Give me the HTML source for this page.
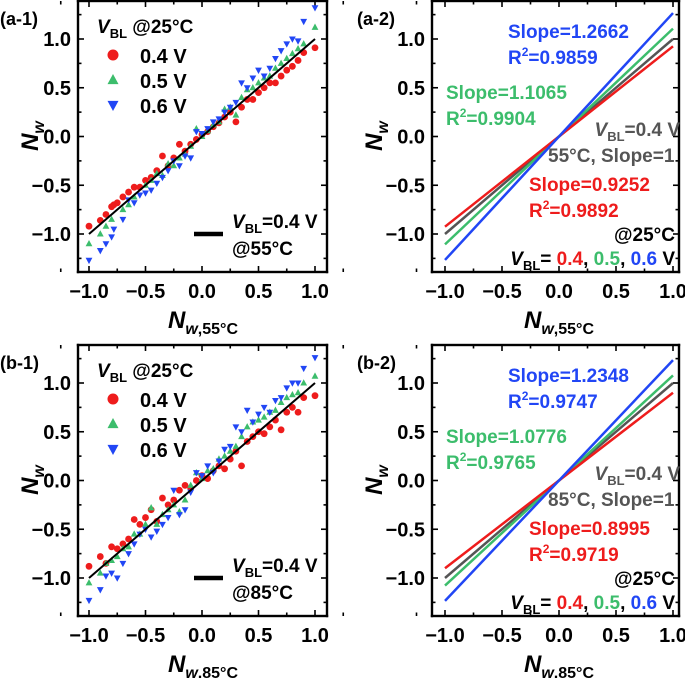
<!DOCTYPE html>
<html><head><meta charset="utf-8">
<style>
html,body{margin:0;padding:0;background:#fff;}
#wrap{position:relative;width:685px;height:678px;overflow:hidden;}
svg{position:absolute;left:0;top:0;display:block;font-family:"Liberation Sans",sans-serif;font-weight:bold;}
</style></head>
<body>
<div id="wrap">
<svg id="fig" width="685" height="678" viewBox="0 0 685 678" xmlns="http://www.w3.org/2000/svg"></svg>
</div>
<script>
// ---- data ----
const xTicks = [-1.0, -0.5, 0.0, 0.5, 1.0];
const yTicks = [-1.0, -0.5, 0.0, 0.5, 1.0];
const tickLabels = ["\u22121.0", "\u22120.5", "0.0", "0.5", "1.0"];
const seriesNames = ["0.4 V", "0.5 V", "0.6 V"];
const seriesColors = ["#ee1c1c", "#3cbd6c", "#2146f5"];

// panel a-1 scatter
const a1RedX = [-1,-0.9,-0.85,-0.8,-0.78,-0.75,-0.7,-0.65,-0.6,-0.55,-0.5,-0.45,-0.4,-0.35,-0.3,-0.25,-0.2,-0.15,-0.1,-0.05,0,0.05,0.1,0.15,0.2,0.25,0.3,0.35,0.4,0.45,0.5,0.55,0.6,0.65,0.7,0.75,0.8,0.85,0.9,1.0];
const a1RedY = [-0.92,-0.86,-0.8,-0.72,-0.7,-0.68,-0.62,-0.57,-0.52,-0.52,-0.45,-0.42,-0.35,-0.2,-0.3,-0.22,-0.08,-0.15,-0.08,-0.03,0.02,0.05,0.1,0.14,0.2,0.25,0.15,0.3,0.38,0.38,0.45,0.5,0.55,0.55,0.62,0.68,0.72,0.78,0.86,0.91];
const a1GreenX = [-1,-0.9,-0.85,-0.8,-0.7,-0.65,-0.6,-0.5,-0.45,-0.4,-0.35,-0.3,-0.25,-0.2,-0.15,-0.1,-0.05,0,0.05,0.1,0.15,0.2,0.25,0.3,0.35,0.4,0.45,0.5,0.55,0.6,0.65,0.7,0.75,0.8,0.85,0.9,1.0];
const a1GreenY = [-1.1,-1.0,-0.92,-0.85,-0.75,-0.7,-0.62,-0.5,-0.45,-0.38,-0.4,-0.28,-0.3,-0.22,-0.18,-0.1,0.08,0,0.06,0.12,0.15,0.28,0.3,0.22,0.4,0.48,0.5,0.55,0.6,0.62,0.7,0.75,0.8,0.85,0.9,0.95,1.12];
const a1BlueX = [-1,-0.9,-0.85,-0.8,-0.78,-0.7,-0.65,-0.6,-0.55,-0.5,-0.45,-0.4,-0.35,-0.3,-0.25,-0.2,-0.15,-0.1,-0.05,0,0.05,0.1,0.15,0.2,0.25,0.3,0.35,0.4,0.45,0.5,0.55,0.6,0.65,0.7,0.75,0.8,0.85,0.9,1.0];
const a1BlueY = [-1.27,-1.17,-1.1,-1.03,-0.95,-0.85,-0.65,-0.68,-0.6,-0.58,-0.55,-0.48,-0.42,-0.35,-0.25,-0.3,-0.2,-0.22,0.05,0.03,0.08,0.15,0.18,0.25,0.3,0.35,0.55,0.5,0.6,0.68,0.62,0.7,0.8,0.88,0.95,1.0,0.98,1.18,1.32];

// panel b-1 scatter
const b1RedX = [-1,-0.9,-0.85,-0.8,-0.75,-0.7,-0.65,-0.6,-0.55,-0.5,-0.45,-0.4,-0.35,-0.3,-0.25,-0.2,-0.15,-0.1,-0.05,0,0.05,0.1,0.15,0.2,0.25,0.3,0.35,0.4,0.45,0.5,0.55,0.6,0.65,0.7,0.75,0.8,0.85,0.9,1.0];
const b1RedY = [-0.88,-0.78,-0.85,-0.68,-0.7,-0.65,-0.6,-0.4,-0.45,-0.38,-0.3,-0.42,-0.18,-0.25,-0.2,-0.1,-0.05,-0.08,0.0,0.05,0.02,0.1,0.15,0.12,0.22,0.3,0.15,0.4,0.45,0.5,0.48,0.55,0.62,0.52,0.7,0.75,0.7,0.85,0.87];
const b1GreenX = [-1,-0.9,-0.85,-0.8,-0.75,-0.7,-0.65,-0.6,-0.55,-0.5,-0.45,-0.4,-0.35,-0.3,-0.25,-0.2,-0.15,-0.1,-0.05,0,0.05,0.1,0.15,0.2,0.25,0.3,0.35,0.4,0.45,0.5,0.55,0.6,0.65,0.7,0.75,0.8,0.85,0.9,1.0];
const b1GreenY = [-1.05,-0.95,-0.85,-0.82,-0.78,-0.7,-0.68,-0.55,-0.55,-0.45,-0.28,-0.45,-0.35,-0.3,-0.25,-0.32,-0.2,-0.05,0.08,0.02,0.1,0.12,0.22,0.25,0.3,0.35,0.45,0.55,0.6,0.62,0.65,0.7,0.72,0.8,0.85,0.88,0.9,1.0,1.07];
const b1BlueX = [-1,-0.9,-0.85,-0.8,-0.75,-0.7,-0.65,-0.6,-0.55,-0.5,-0.45,-0.4,-0.35,-0.3,-0.25,-0.2,-0.15,-0.1,-0.05,0,0.05,0.1,0.15,0.2,0.25,0.3,0.35,0.4,0.45,0.5,0.55,0.6,0.65,0.7,0.75,0.8,0.85,0.9,1.0];
const b1BlueY = [-1.23,-1.12,-0.98,-0.95,-1.0,-0.85,-0.75,-0.65,-0.55,-0.5,-0.58,-0.52,-0.45,-0.38,-0.1,-0.35,-0.3,-0.12,0.08,0.05,0.15,0.08,0.2,0.32,0.35,0.55,0.5,0.72,0.6,0.68,0.75,0.7,0.82,0.85,0.95,1.0,1.0,1.15,1.26];

// fit slopes (a-2, b-2): red, green, blue, reference
const a2Slopes = [0.9252, 1.1065, 1.2662, 1.0];
const b2Slopes = [0.8995, 1.0776, 1.2348, 1.0];
const fitColors = ["#ee1c1c", "#3cbd6c", "#2146f5", "#555555"];

// ---- drawing ----
const NS = "http://www.w3.org/2000/svg";
const svg = document.getElementById("fig");
function mk(tag, attrs, parent) {
  const e = document.createElementNS(NS, tag);
  for (const k in attrs) e.setAttribute(k, attrs[k]);
  (parent || svg).appendChild(e);
  return e;
}
function makePanel(name, left, right, top, bottom, xm1, x1, yOff) {
  const g = mk("g", {});
  
  
  const sx = v => (xm1 + x1) / 2 + (x1 - xm1) / 2 * v;
  const sy = v => 136.5 + yOff - 97.5 * v;
  // frame as four filled bars
  const fg = mk("g", {fill: "#000"}, g);
  
  
  const w = 2.4;
  mk("rect", {x: left - w / 2, y: top - w / 2, width: right - left + w, height: w}, fg);
  mk("rect", {x: left - w / 2, y: bottom - w / 2, width: right - left + w, height: w}, fg);
  mk("rect", {x: left - w / 2, y: top - w / 2, width: w, height: bottom - top + w}, fg);
  mk("rect", {x: right - w / 2, y: top - w / 2, width: w, height: bottom - top + w}, fg);
  const tg = mk("g", {stroke: "#000", "stroke-width": 1.6}, g);
  
  
  for (let v = -1.25; v <= 1.26; v += 0.25) {
    const major = Math.abs(v * 2 - Math.round(v * 2)) < 1e-6;
    const L = major ? 6 : 3.5;
    const X = sx(v);
    mk("line", {x1: X, y1: bottom, x2: X, y2: bottom - L}, tg);
    mk("line", {x1: X, y1: top, x2: X, y2: top + L}, tg);
    const Y = sy(v);
    if (Y > top + 2 && Y < bottom - 2) {
      mk("line", {x1: left, y1: Y, x2: left + L, y2: Y}, tg);
      mk("line", {x1: right, y1: Y, x2: right - L, y2: Y}, tg);
    }
  }
  xTicks.forEach((v, i) => {
    const t = mk("text", {x: sx(v), y: bottom + 26, "text-anchor": "middle", "font-size": 20}, g);
    
    
    t.textContent = tickLabels[i];
  });
  yTicks.forEach((v, i) => {
    const t = mk("text", {x: left - 7, y: sy(v) + 7, "text-anchor": "end", "font-size": 20}, g);
    
    
    t.textContent = tickLabels[i];
  });
  return {g, sx, sy};
}
function marker(g, kind, x, y, s, color) {
  let e;
  if (kind === 0) e = mk("circle", {cx: x, cy: y, r: s, fill: color}, g);
  else if (kind === 1) e = mk("polygon", {points: `${x},${y - s * 1.1} ${x - s},${y + s * 0.75} ${x + s},${y + s * 0.75}`, fill: color}, g);
  else e = mk("polygon", {points: `${x},${y + s * 1.1} ${x - s},${y - s * 0.75} ${x + s},${y - s * 0.75}`, fill: color}, g);
  return e;
}
function txt(parent, name, x, y, size, html, attrs) {
  const t = mk("text", Object.assign({x: x, y: y, "font-size": size}, attrs || {}), parent);
  
  
  t.innerHTML = html;
  return t;
}
function axisTitles(g, cx, cy, xLabelX, xLabelY, temp) {
  txt(g, "y-axis-title", 0, 0, 24, '<tspan font-style="italic">N</tspan><tspan font-style="italic" font-size="16" dy="6">w</tspan>', {transform: `translate(${cx},${cy}) rotate(-90)`, "text-anchor": "middle"});
  txt(g, "x-axis-title", xLabelX, xLabelY, 24, `<tspan font-style="italic">N</tspan><tspan font-size="16" dy="6"><tspan font-style="italic">w</tspan>,${temp}°C</tspan>`, {"text-anchor": "middle"});
}
function scatterPanel(name, yOff, label, temp, X, Y) {
  const p = makePanel(name, 78, 327, 1 + yOff, 272 + yOff, 89, 315, yOff);
  const sg = mk("g", {}, p.g);
  
  
  for (let s = 0; s < 3; s++) {
    for (let i = 0; i < X[s].length; i++) {
      const m = marker(sg, s, p.sx(X[s][i]), p.sy(Y[s][i]), 3.4, seriesColors[s]);
      
      
    }
  }
  const ref = mk("line", {x1: p.sx(-1), y1: p.sy(-1), x2: p.sx(1), y2: p.sy(1), stroke: "#000", "stroke-width": 2}, p.g);
  
  
  const lg = mk("g", {}, p.g);
  
  
  txt(lg, "legend-title", 97, 33 + yOff, 19, '<tspan font-style="italic">V</tspan><tspan font-size="13" dy="5">BL</tspan><tspan dy="-5"> @25°C</tspan>');
  for (let s = 0; s < 3; s++) {
    const yy = 55 + 25 * s + yOff;
    const m = marker(lg, s, 113, yy, 5.5, seriesColors[s]);
    
    
    txt(lg, "legend-entry", 140, yy + 8, 20, seriesNames[s]);
  }
  const ll = mk("line", {x1: 194, y1: 234 + yOff, x2: 223, y2: 234 + yOff, stroke: "#000", "stroke-width": 4.5}, lg);
  
  
  txt(lg, "legend-line-label", 232, 228 + yOff, 19, '<tspan font-style="italic">V</tspan><tspan font-size="13" dy="5">BL</tspan><tspan dy="-5">=0.4 V</tspan>');
  txt(lg, "legend-line-temp", 232, 255 + yOff, 19, `@${temp}°C`);
  txt(p.g, "panel-label", 0, 25 + yOff, 18, label);
  axisTitles(p.g, 38, 136 + yOff, 203, 328 + yOff, temp);
}
function fitPanel(name, yOff, label, temp, slopes, t) {
  const p = makePanel(name, 432, 679, 1 + yOff, 272 + yOff, 445, 673, yOff);
  const lg = mk("g", {}, p.g);
  
  
  [3, 1, 0, 2].forEach(s => {
    const l = mk("line", {x1: p.sx(-1), y1: p.sy(-slopes[s]), x2: p.sx(1), y2: p.sy(slopes[s]), stroke: fitColors[s], "stroke-width": 2.5}, lg);
    
    
  });
  txt(p.g, "blue-slope", 508, 38 + yOff, 19, `Slope=${slopes[2].toFixed(4)}`, {fill: fitColors[2]});
  txt(p.g, "blue-r2", 508, 64 + yOff, 19, `R<tspan font-size="12" dy="-8">2</tspan><tspan dy="8">=${t[2]}</tspan>`, {fill: fitColors[2]});
  txt(p.g, "green-slope", 446, 99 + yOff, 19, `Slope=${slopes[1].toFixed(4)}`, {fill: fitColors[1]});
  txt(p.g, "green-r2", 446, 125 + yOff, 19, `R<tspan font-size="12" dy="-8">2</tspan><tspan dy="8">=${t[1]}</tspan>`, {fill: fitColors[1]});
  txt(p.g, "reference-label", 680, 136 + yOff, 19, '<tspan font-style="italic">V</tspan><tspan font-size="13" dy="5">BL</tspan><tspan dy="-5">=0.4 V</tspan>', {fill: "#555", "text-anchor": "end"});
  txt(p.g, "reference-slope", 548, 162 + yOff, 19, `${temp}°C, Slope=1`, {fill: "#555"});
  txt(p.g, "red-slope", 529, 191 + yOff, 19, `Slope=${slopes[0].toFixed(4)}`, {fill: fitColors[0]});
  txt(p.g, "red-r2", 529, 217 + yOff, 19, `R<tspan font-size="12" dy="-8">2</tspan><tspan dy="8">=${t[0]}</tspan>`, {fill: fitColors[0]});
  txt(p.g, "temp-note", 675, 241 + yOff, 19, "@25°C", {"text-anchor": "end"});
  txt(p.g, "vbl-note", 675, 265 + yOff, 19, `<tspan font-style="italic">V</tspan><tspan font-size="13" dy="5">BL</tspan><tspan dy="-5">= </tspan><tspan fill="${fitColors[0]}">0.4</tspan>, <tspan fill="${fitColors[1]}">0.5</tspan>, <tspan fill="${fitColors[2]}">0.6</tspan> V`, {"text-anchor": "end"});
  txt(p.g, "panel-label", 357, 25 + yOff, 18, label);
  axisTitles(p.g, 382, 136 + yOff, 559, 328 + yOff, temp);
}
scatterPanel("panel-a1", 0, "(a-1)", "55", [a1RedX, a1GreenX, a1BlueX], [a1RedY, a1GreenY, a1BlueY]);
scatterPanel("panel-b1", 344, "(b-1)", "85", [b1RedX, b1GreenX, b1BlueX], [b1RedY, b1GreenY, b1BlueY]);
fitPanel("panel-a2", 0, "(a-2)", "55", a2Slopes, ["0.9892", "0.9904", "0.9859"]);
fitPanel("panel-b2", 344, "(b-2)", "85", b2Slopes, ["0.9719", "0.9765", "0.9747"]);
</script>
</body></html>
